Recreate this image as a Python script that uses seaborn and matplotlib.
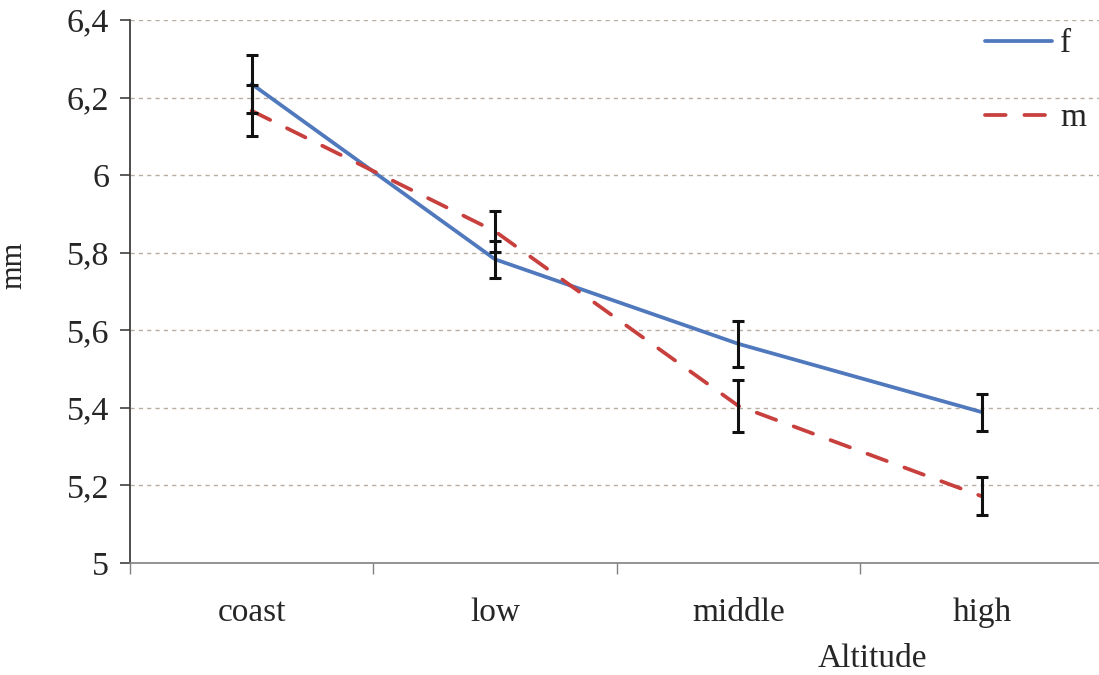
import matplotlib
matplotlib.use("Agg")
import matplotlib.pyplot as plt
import seaborn as sns
import pandas as pd
from matplotlib.lines import Line2D

# ---- data ----
categories = ["coast", "low", "middle", "high"]
f_values = [6.235, 5.783, 5.565, 5.389]
f_err = [0.075, 0.048, 0.060, 0.048]
m_values = [6.166, 5.855, 5.405, 5.172]
m_err = [0.066, 0.053, 0.067, 0.049]
y_ticks = [5.0, 5.2, 5.4, 5.6, 5.8, 6.0, 6.2, 6.4]
y_ticklabels = ["5", "5,2", "5,4", "5,6", "5,8", "6", "6,2", "6,4"]

df = pd.DataFrame({
    "Altitude": categories * 2,
    "pos": list(range(len(categories))) * 2,
    "value": f_values + m_values,
    "err": f_err + m_err,
    "sex": ["f"] * 4 + ["m"] * 4,
})

sns.set_style("white")
plt.rcParams["font.family"] = ["Liberation Serif", "DejaVu Serif"]

fig = plt.figure(figsize=(10.99, 6.75), dpi=100)
ax = fig.add_axes([130 / 1099, 1 - 563 / 675, (1103.5 - 130) / 1099, (563 - 20) / 675])

colors = {"f": "#4F78BD", "m": "#C8403D"}
sns.lineplot(data=df, x="pos", y="value", hue="sex", palette=colors,
             style="sex", dashes={"f": "", "m": (5.5, 5.0)},
             linewidth=2.7, ax=ax, legend=False, sort=False)
for line in ax.lines:
    line.set_dash_capstyle("round")
    line.set_solid_capstyle("round")

for s in ["f", "m"]:
    sub = df[df["sex"] == s]
    ax.errorbar(sub["pos"], sub["value"], yerr=sub["err"], fmt="none",
                ecolor="#111111", elinewidth=2.2, capsize=4.5, capthick=2.2, zorder=5)

# axes styling
ax.set_xlim(-0.5, 3.5)
ax.set_ylim(5.0, 6.4)
ax.set_yticks(y_ticks)
ax.set_yticklabels(y_ticklabels)
ax.set_xticks(range(len(categories)))
ax.set_xticklabels(categories)
ax.set_xticks([-0.5, 0.5, 1.5, 2.5], minor=True)
ax.tick_params(axis="x", which="major", length=0, pad=25, labelsize=24)
ax.tick_params(axis="x", which="minor", length=8, width=1, color="#808080", direction="out")
ax.tick_params(axis="y", which="major", length=7, width=1.2, color="#404040",
               direction="out", labelsize=24.5, pad=8)
ax.tick_params(left=True, bottom=True, which="both")

for sp in ["top", "right"]:
    ax.spines[sp].set_visible(False)
ax.spines["left"].set_color("#404040")
ax.spines["left"].set_linewidth(1.3)
ax.spines["bottom"].set_color("#808080")
ax.spines["bottom"].set_linewidth(1.2)

for yv in y_ticks[1:]:
    ax.axhline(yv, color="#B8ADA3", linewidth=1.0, linestyle=(0, (3, 3)), zorder=0)

ax.set_ylabel("mm", fontsize=22)
ax.yaxis.set_label_coords(-0.104, 0.549)
ax.set_xlabel("Altitude", fontsize=24)
ax.xaxis.set_label_coords(0.763, -0.148)

# legend
handles = [Line2D([0], [0], color=colors["f"], linewidth=2.7, solid_capstyle="round"),
           Line2D([0], [0], color=colors["m"], linewidth=2.7, linestyle=(0, (5.5, 5.0)),
                  dash_capstyle="round")]
ax.legend(handles, ["f", "m"], loc="upper left", bbox_to_anchor=(985 / 1099, 1 - 29 / 675),
          bbox_transform=fig.transFigure, frameon=False, fontsize=24,
          handlelength=2.0, handletextpad=0.25, labelspacing=1.3, borderaxespad=0,
          borderpad=0)

fig.savefig("out.png", dpi=100)
